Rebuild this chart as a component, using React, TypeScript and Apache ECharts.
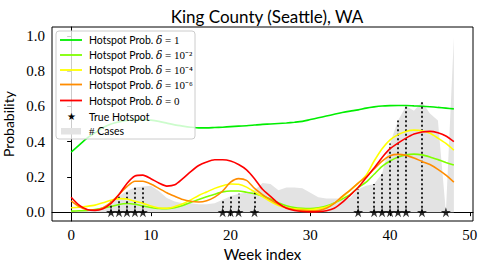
import React, { useEffect, useRef } from "react";
import * as echarts from "echarts";

const weeks: number[] = Array.from({ length: 49 }, (_, i) => i);

const cases: number[] = [
  0.005, 0.01, 0.01, 0.02, 0.03, 0.06, 0.09, 0.12, 0.14, 0.145,
  0.15, 0.12, 0.08, 0.06, 0.05, 0.05, 0.045, 0.045, 0.05, 0.07,
  0.09, 0.105, 0.11, 0.125, 0.165, 0.16, 0.125, 0.14, 0.14, 0.135,
  0.11, 0.085, 0.078, 0.078, 0.078, 0.08, 0.13, 0.15, 0.16, 0.22,
  0.39, 0.52, 0.6, 0.575, 0.625, 0.56, 0.52, 0.0, 0.99,
];

const probD1: number[] = [
  0.34, 0.38, 0.42, 0.45, 0.48, 0.5, 0.512, 0.52, 0.524, 0.525,
  0.522, 0.515, 0.505, 0.495, 0.488, 0.482, 0.478, 0.478, 0.48, 0.482,
  0.485, 0.488, 0.49, 0.494, 0.498, 0.5, 0.503, 0.506, 0.51, 0.515,
  0.525, 0.535, 0.545, 0.555, 0.565, 0.573, 0.58, 0.59, 0.597, 0.602,
  0.604, 0.605, 0.605, 0.603, 0.601, 0.598, 0.594, 0.59, 0.586,
];

const probD2: number[] = [
  0.006, 0.008, 0.01, 0.015, 0.022, 0.032, 0.044, 0.049, 0.045, 0.035,
  0.027, 0.021, 0.02, 0.026, 0.038, 0.055, 0.072, 0.087, 0.102, 0.115,
  0.12, 0.12, 0.113, 0.105, 0.092, 0.075, 0.053, 0.036, 0.026, 0.022,
  0.021, 0.025, 0.035, 0.052, 0.075, 0.1, 0.14, 0.17, 0.215, 0.26,
  0.29, 0.313, 0.325, 0.329, 0.325, 0.313, 0.298, 0.282, 0.267,
];

const probD4: number[] = [
  0.025, 0.028, 0.033, 0.04, 0.053, 0.068, 0.077, 0.075, 0.062, 0.05,
  0.035, 0.024, 0.022, 0.032, 0.048, 0.07, 0.095, 0.115, 0.135, 0.15,
  0.16, 0.158, 0.142, 0.115, 0.088, 0.06, 0.038, 0.025, 0.019, 0.016,
  0.015, 0.02, 0.03, 0.05, 0.085, 0.125, 0.165, 0.21, 0.29, 0.36,
  0.41, 0.44, 0.458, 0.465, 0.462, 0.447, 0.42, 0.39, 0.352,
];

const probD6: number[] = [
  0.064, 0.032, 0.014, 0.012, 0.025, 0.055, 0.1, 0.145, 0.175, 0.175,
  0.16, 0.135, 0.11, 0.09, 0.072, 0.062, 0.058, 0.065, 0.085, 0.12,
  0.17, 0.19, 0.18, 0.135, 0.1, 0.07, 0.045, 0.025, 0.014, 0.01,
  0.008, 0.01, 0.022, 0.05, 0.09, 0.125, 0.165, 0.2, 0.245, 0.29,
  0.32, 0.328, 0.322, 0.307, 0.288, 0.27, 0.243, 0.21, 0.17,
];

const probD0: number[] = [
  0.085, 0.04, 0.015, 0.01, 0.02, 0.05, 0.1, 0.163, 0.205, 0.21,
  0.19, 0.165, 0.148, 0.155, 0.19, 0.23, 0.265, 0.285, 0.297, 0.297,
  0.29, 0.27, 0.24, 0.19, 0.13, 0.09, 0.05, 0.022, 0.01, 0.004,
  0.002, 0.003, 0.008, 0.022, 0.055, 0.097, 0.14, 0.195, 0.25, 0.31,
  0.36, 0.392, 0.42, 0.443, 0.455, 0.458, 0.45, 0.432, 0.4,
];

const hotspotWeeks: number[] = [5, 6, 7, 8, 9, 19, 20, 21, 23, 36, 38, 39, 40, 41, 42, 44, 47];

const xTicks: number[] = [0, 10, 20, 30, 40, 50];
const yTicks: number[] = [0, 0.2, 0.4, 0.6, 0.8, 1.0];

const seriesNames: string[] = ["δ = 1", "δ = 10⁻²", "δ = 10⁻⁴", "δ = 10⁻⁶", "δ = 0"];
const seriesColors: string[] = ["#00ee00", "#7fff00", "#ffff00", "#ff8c00", "#ff0000"];

const STAR = "path://M50,0 L61,35 L98,35 L68,57 L79,91 L50,70 L21,91 L32,57 L2,35 L39,35 Z";

export default function App() {
  const ref = useRef<HTMLDivElement>(null);
  useEffect(() => {
    if (!ref.current) return;
    const chart = echarts.init(ref.current, null, { renderer: "svg" });
    const allProbs = [probD1, probD2, probD4, probD6, probD0];
    const lineSeries = allProbs.map((arr, i) => ({
      type: "line",
      name: seriesNames[i],
      data: weeks.map((w, j) => [w, arr[j]]),
      showSymbol: false,
      smooth: 0.25,
      lineStyle: { color: seriesColors[i], width: 1.6 },
      itemStyle: { color: seriesColors[i] },
      z: 3 + i,
    }));

    const legendX = 56;
    const legendRows = [40, 55, 70, 84.5, 100.5, 116.5, 131];
    const sans = "Lato, 'DejaVu Sans', sans-serif";
    const legendGraphics: any[] = [
      {
        type: "rect",
        shape: { x: legendX, y: 31, width: 139, height: 108, r: 3 },
        style: { fill: "rgba(255,255,255,0.8)", stroke: "#cccccc", lineWidth: 1 },
        z: 100,
      },
    ];
    seriesNames.forEach((nm, i) => {
      legendGraphics.push({
        type: "line",
        shape: { x1: 60, y1: legendRows[i], x2: 82, y2: legendRows[i] },
        style: { stroke: seriesColors[i], lineWidth: 1.8 },
        z: 101,
      });
      const parts = nm.split("δ");
      legendGraphics.push({
        type: "text",
        x: 89,
        y: legendRows[i],
        style: {
          text: "{n|Hotspot Prob. }{d|δ}{m|" + parts[1] + "}",
          verticalAlign: "middle",
          fill: "#000",
          rich: {
            n: { fontFamily: sans, fontSize: 10.5, fill: "#000" },
            d: { fontFamily: "'DejaVu Serif', serif", fontStyle: "italic", fontSize: 10.5, fill: "#000" },
            m: { fontFamily: "'Liberation Serif', serif", fontSize: 11, fill: "#000" },
          },
        },
        z: 101,
      });
    });
    legendGraphics.push({
      type: "text",
      x: 71,
      y: legendRows[5],
      style: { text: "★", fontSize: 10, fill: "#000", align: "center", verticalAlign: "middle" },
      z: 101,
    });
    legendGraphics.push({
      type: "text",
      x: 89,
      y: legendRows[5],
      style: { text: "True Hotspot", fontFamily: sans, fontSize: 10.5, fill: "#000", verticalAlign: "middle" },
      z: 101,
    });
    legendGraphics.push({
      type: "rect",
      shape: { x: 61, y: 128, width: 20, height: 6.5 },
      style: { fill: "#e3e3e3" },
      z: 101,
    });
    legendGraphics.push({
      type: "text",
      x: 89,
      y: legendRows[6],
      style: {
        text: "{s|#}{n| Cases}",
        verticalAlign: "middle",
        rich: {
          s: { fontFamily: "'Liberation Serif', serif", fontSize: 11, fill: "#000" },
          n: { fontFamily: sans, fontSize: 10.5, fill: "#000" },
        },
      },
      z: 101,
    });

    const option: any = {
      animation: false,
      backgroundColor: "#fff",
      title: {
        text: "King County (Seattle), WA",
        left: 262,
        textAlign: "center",
        top: 3,
        textStyle: { fontFamily: sans, fontSize: 17, fontWeight: "normal", color: "#000" },
      },
      grid: {
        left: 52,
        right: 10,
        top: 27,
        bottom: 46,
        show: true,
        borderColor: "#000",
        borderWidth: 1,
        backgroundColor: "transparent",
        outerBoundsMode: "none",
        containLabel: false,
      },
      xAxis: {
        type: "value",
        min: -2.4,
        max: 50.4,
        name: "Week index",
        nameLocation: "middle",
        nameGap: 25,
        nameTextStyle: { fontFamily: sans, fontSize: 15, color: "#000" },
        axisLine: { show: true, lineStyle: { color: "#000", width: 1 } },
        axisTick: { show: true, customValues: xTicks, length: 4, lineStyle: { color: "#000" } },
        axisLabel: {
          customValues: xTicks,
          fontFamily: "'Liberation Serif', serif",
          fontSize: 15,
          color: "#000",
          margin: 6,
        },
        splitLine: { show: false },
      },
      yAxis: {
        type: "value",
        min: -0.05,
        max: 1.05,
        name: "Probability",
        nameLocation: "middle",
        nameGap: 36,
        nameTextStyle: { fontFamily: sans, fontSize: 14, color: "#000" },
        axisLine: { show: true, lineStyle: { color: "#000", width: 1 } },
        axisTick: { show: true, customValues: yTicks, length: 4, lineStyle: { color: "#000" } },
        axisLabel: {
          customValues: yTicks,
          formatter: (v: number) => v.toFixed(1),
          fontFamily: "'Liberation Serif', serif",
          fontSize: 15,
          color: "#000",
          margin: 7,
        },
        splitLine: { show: false },
      },
      graphic: legendGraphics,
      series: [
        {
          type: "line",
          name: "# Cases",
          data: weeks.map((w, j) => [w, cases[j]]),
          showSymbol: false,
          lineStyle: { width: 0, color: "#e3e3e3" },
          areaStyle: { color: "#e3e3e3", opacity: 1 },
          z: 1,
        },
        ...lineSeries,
        {
          type: "scatter",
          name: "True Hotspot",
          data: hotspotWeeks.map((w) => [w, 0]),
          symbol: STAR,
          symbolSize: 10,
          itemStyle: { color: "#000" },
          z: 20,
          markLine: {
            symbol: "none",
            silent: true,
            label: { show: false },
            lineStyle: { color: "#111", type: [2, 2.5], width: 1.8 },
            data: hotspotWeeks.map((w) => [
              { coord: [w, 0] },
              { coord: [w, cases[w]] },
            ]),
          },
        },
      ],
    };
    chart.setOption(option);
    return () => chart.dispose();
  }, []);
  return <div ref={ref} style={{ width: 483, height: 267, position: "absolute", left: 0, top: 0 }} />;
}
